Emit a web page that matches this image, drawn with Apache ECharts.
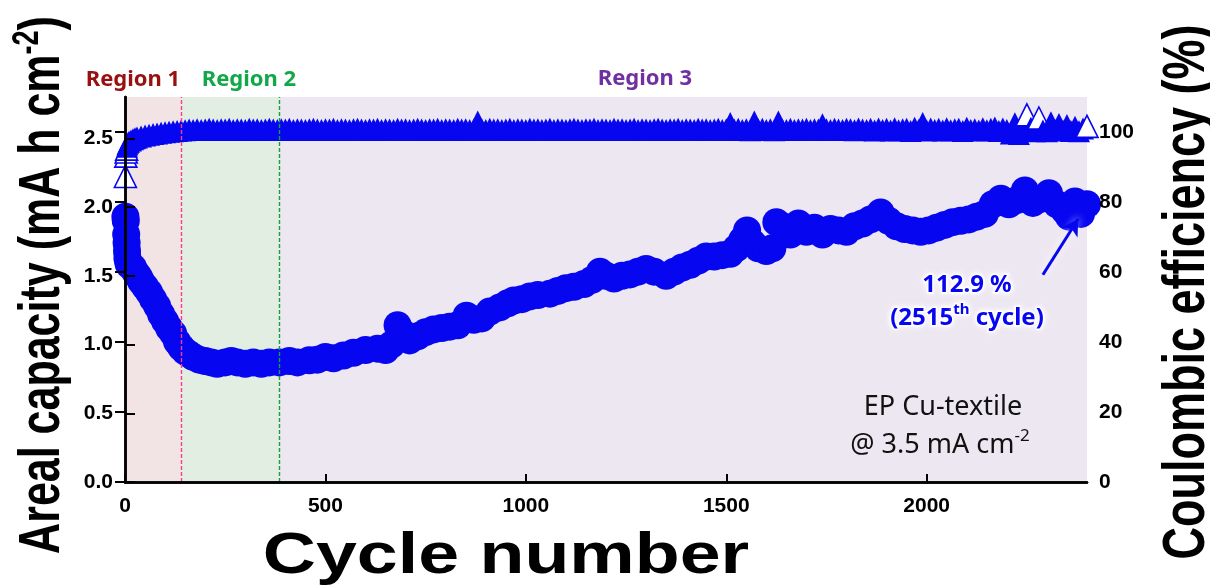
<!DOCTYPE html>
<html><head><meta charset="utf-8">
<script src="https://cdn.jsdelivr.net/npm/echarts@6/dist/echarts.min.js"></script>
<style>html,body{margin:0;padding:0;background:#fff}#c{width:1210px;height:587px}</style>
</head><body><div id="c"></div>
<script>
// ---- data ----
const capCycles = [1,2,3,4,5,6,8,10,15,20,25,30,35,40,50,60,70,80,90,100,110,120,130,140,150,160,170,185,200,215,230,250,265,280,300,320,340,360,385,410,430,460,480,500,520,545,570,600,630,650,665,680,695,710,730,750,770,790,810,830,852,870,890,910,935,955,970,990,1010,1030,1060,1080,1100,1120,1145,1165,1185,1200,1220,1240,1260,1280,1300,1320,1350,1370,1390,1410,1430,1450,1470,1490,1510,1525,1540,1552,1565,1580,1600,1615,1625,1640,1660,1680,1700,1720,1740,1760,1780,1800,1820,1840,1860,1885,1905,1925,1945,1965,1985,2005,2025,2045,2065,2085,2105,2125,2145,2165,2185,2205,2225,2245,2265,2285,2305,2325,2345,2355,2370,2385,2400];
const capValues = [1.93,1.90,1.80,1.74,1.68,1.63,1.60,1.58,1.57,1.56,1.53,1.51,1.49,1.46,1.42,1.38,1.33,1.28,1.22,1.17,1.12,1.08,1.02,0.98,0.95,0.93,0.91,0.89,0.88,0.87,0.86,0.87,0.88,0.87,0.86,0.87,0.86,0.87,0.87,0.88,0.87,0.885,0.89,0.91,0.90,0.92,0.94,0.96,0.97,0.96,1.00,1.14,1.08,1.03,1.06,1.09,1.11,1.12,1.13,1.14,1.21,1.18,1.19,1.24,1.27,1.30,1.32,1.33,1.35,1.36,1.37,1.39,1.41,1.42,1.44,1.47,1.53,1.50,1.48,1.50,1.51,1.53,1.55,1.53,1.50,1.53,1.56,1.58,1.61,1.64,1.64,1.65,1.66,1.70,1.76,1.83,1.74,1.70,1.68,1.70,1.89,1.86,1.80,1.88,1.82,1.85,1.80,1.84,1.83,1.82,1.86,1.88,1.91,1.96,1.90,1.86,1.84,1.83,1.82,1.83,1.85,1.87,1.89,1.90,1.91,1.93,1.95,2.02,2.06,2.02,2.05,2.12,2.03,2.06,2.10,2.02,1.97,1.93,2.04,1.95,2.02];
// coulombic efficiency: first cycles, then one reading every 10 cycles from 150 to 2400
const ceEarlyCycles = [1,2,3,4,5,6,8,10,15,20,25,30,40,50,60,70,80,90,100,110,120,130,140];
const ceValues = [
  87.3,93.1,94.3,95.1,95.8,96.4,96.9,97.2,97.6,97.9,98.2,98.4,98.7,99.0,99.2,99.4,99.6,99.8,99.9,100.1,100.2,100.3,100.4,
  100.5,100.7,100.6,100.8,100.6,100.7,100.9,100.7,100.6,100.8,
  100.7,100.9,100.6,100.8,100.7,100.6,100.9,100.7,100.8,100.6,
  100.7,100.9,100.7,100.6,100.8,100.7,100.9,100.6,100.8,100.7,
  100.6,100.8,100.9,100.7,100.6,100.8,100.7,100.9,100.6,100.8,
  100.7,100.6,100.8,100.9,100.7,100.6,100.8,100.7,100.9,100.6,
  100.8,100.7,100.6,100.9,100.7,100.8,100.6,100.7,100.9,100.7,
  100.6,100.8,100.7,100.9,100.6,100.8,100.7,100.6,100.9,100.7,
  100.8,100.6,100.7,103.0,100.8,100.6,100.9,100.7,100.8,100.6,
  100.7,100.9,100.6,100.8,100.7,100.6,100.9,100.7,100.8,100.6,
  100.7,100.9,100.6,100.8,100.7,100.6,100.8,100.9,100.7,100.6,
  100.8,100.7,100.9,100.6,100.8,100.7,100.6,100.9,100.7,100.8,
  100.6,100.7,100.9,100.6,100.8,100.7,100.6,100.8,100.9,100.7,
  100.6,100.8,100.7,100.9,100.6,100.8,100.7,100.6,100.9,100.7,
  100.8,100.6,100.7,100.9,100.6,100.8,102.6,100.7,100.9,100.6,
  100.8,100.5,103.0,100.7,100.9,100.6,100.8,100.5,103.0,100.7,
  100.6,100.9,100.6,100.8,100.7,100.9,100.6,100.8,100.7,102.2,
  100.8,100.6,100.9,100.7,100.6,100.9,100.8,100.5,101.0,100.7,
  100.6,100.9,100.4,101.0,100.6,100.9,100.4,101.1,100.5,100.8,
  100.9,100.3,101.2,100.6,102.6,100.4,101.0,100.6,100.9,100.4,
  101.1,100.5,100.8,100.9,100.3,101.2,100.6,100.8,100.4,101.1,
  100.5,100.9,101.3,100.3,101.0,100.6,99.6,102.5,99.4,100.8,
  104.9,101.2,100.2,104.0,100.4,100.2,102.8,100.6,102.3,100.4,
  102.0,100.3,101.5,100.2,101.0,101.6
];
const hollowCE = [1, 2, 3, 4, 2250, 2280, 2400];
const regionEdges = [0, 140, 385, 2400];
const regionNames = ['Region 1', 'Region 2', 'Region 3'];
const annoValue = '112.9 %';
const annoCycle = '2515';

// ---- build ----
const ceCycles = ceEarlyCycles.slice();
for (let c = 150; c <= 2400; c += 10) ceCycles.push(c);
const BLUE = '#0606f0';
const capData = capCycles.map((c, i) => [c, capValues[i]]);
const ceData = ceCycles.map((c, i) => {
  const d = { value: [c, ceValues[i]] };
  if (hollowCE.indexOf(c) >= 0) d.itemStyle = { color: '#ffffff', borderColor: BLUE, borderWidth: 1.6 };
  return d;
});
const regionColors = ['#f2e4e4', '#e3eee2', '#ede7f2'];
const dividerColors = ['#ff3c8c', '#16a03a'];
const F = '"Liberation Sans", Arial, sans-serif';
const axisLabelStyle = { color: '#000', fontWeight: 'bold', fontSize: 21, fontFamily: F };

const dividerSeries = [1, 2].map(i => ({
  type: 'line', data: [], z: 1, silent: true,
  markLine: {
    silent: true, symbol: 'none', label: { show: false },
    lineStyle: { color: dividerColors[i - 1], type: [4, 2], width: 1.4, opacity: 1 },
    data: [{ xAxis: regionEdges[i] }]
  }
}));

const chart = echarts.init(document.getElementById('c'), null, { renderer: 'canvas' });
chart.setOption({
  animation: false,
  grid: { left: 125, right: 123, top: 97, bottom: 105, show: false },
  xAxis: [{
    type: 'value', min: regionEdges[0], max: regionEdges[3], interval: 500, z: 5,
    axisLine: { lineStyle: { color: '#000', width: 2.5 } },
    axisTick: { inside: true, length: 8, lineStyle: { color: '#000', width: 2 } },
    axisLabel: Object.assign({ showMaxLabel: false, margin: 14, formatter: v => String(v) }, axisLabelStyle),
    splitLine: { show: false }
  }, {
    type: 'value', position: 'top', min: regionEdges[0], max: regionEdges[3], z: 5,
    axisLine: { lineStyle: { color: '#000', width: 2.5 } },
    axisTick: { show: false }, axisLabel: { show: false }, splitLine: { show: false }
  }],
  yAxis: [{
    type: 'value', min: 0, max: 2.8, interval: 0.5, z: 5,
    axisLine: { show: true, lineStyle: { color: '#000', width: 2.5 } },
    axisTick: { inside: true, length: 10, lineStyle: { color: '#000', width: 2 } },
    axisLabel: Object.assign({ showMaxLabel: false, margin: 12, formatter: v => v.toFixed(1) }, axisLabelStyle),
    splitLine: { show: false }
  }, {
    type: 'value', min: 0, max: 110, interval: 20, position: 'right', z: 5,
    axisLine: { show: true, lineStyle: { color: '#000', width: 2.5 } },
    axisTick: { inside: true, length: 10, lineStyle: { color: '#000', width: 2 } },
    axisLabel: Object.assign({ showMaxLabel: false, margin: 12 }, axisLabelStyle),
    splitLine: { show: false }
  }],
  series: [{
    type: 'line', data: [], z: 0, silent: true,
    markArea: {
      silent: true,
      data: regionNames.map((n, i) => [{ xAxis: regionEdges[i], itemStyle: { color: regionColors[i] } }, { xAxis: regionEdges[i + 1] }])
    }
  }].concat(dividerSeries, [{
    name: 'Areal capacity', type: 'scatter', xAxisIndex: 0, yAxisIndex: 0, z: 2,
    symbol: 'circle', symbolSize: 28, itemStyle: { color: BLUE, opacity: 1 },
    data: capData,
    markLine: {
      silent: true, symbol: ['none', 'arrow'], symbolSize: [14, 16], label: { show: false },
      lineStyle: { color: BLUE, width: 3, type: 'solid', shadowColor: '#ffffff', shadowBlur: 8 },
      data: [[{ coord: [2290, 1.507] }, { coord: [2378, 1.913] }]]
    }
  }, {
    name: 'Coulombic efficiency', type: 'scatter', xAxisIndex: 0, yAxisIndex: 1, z: 3,
    symbol: 'triangle', symbolSize: 22, itemStyle: { color: BLUE, opacity: 1 },
    data: ceData
  }]),
  graphic: [
    { type: 'text', x: 133, y: 80, style: { text: regionNames[0], font: 'bold 22px "Noto Sans", sans-serif', fill: '#9a0f0f', align: 'center', verticalAlign: 'middle' } },
    { type: 'text', x: 249, y: 80, style: { text: regionNames[1], font: 'bold 22px "Noto Sans", sans-serif', fill: '#12a84a', align: 'center', verticalAlign: 'middle' } },
    { type: 'text', x: 645, y: 79, style: { text: regionNames[2], font: 'bold 22px "Noto Sans", sans-serif', fill: '#7030a0', align: 'center', verticalAlign: 'middle' } },
    { type: 'text', x: 967, y: 285, z: 10, style: { text: annoValue, font: 'bold 24px "Noto Sans", sans-serif', fill: BLUE, align: 'center', verticalAlign: 'middle', stroke: '#ffffff', lineWidth: 3, textShadowColor: '#ffffff', textShadowBlur: 6 } },
    { type: 'text', x: 967, y: 318, z: 10, style: {
      text: '(' + annoCycle + '{sup|th} cycle)', font: 'bold 24px "Noto Sans", sans-serif', fill: BLUE, align: 'center', verticalAlign: 'middle', lineHeight: 32,
      stroke: '#ffffff', lineWidth: 3, textShadowColor: '#ffffff', textShadowBlur: 6,
      rich: { sup: { font: 'bold 15px "Noto Sans", sans-serif', fill: BLUE, verticalAlign: 'top', lineHeight: 16, stroke: '#ffffff', lineWidth: 3 } } } },
    { type: 'text', x: 943, y: 407, z: 10, style: { text: 'EP Cu-textile', font: '27px "Noto Sans", sans-serif', fill: '#111', align: 'center', verticalAlign: 'middle' } },
    { type: 'text', x: 940, y: 445, z: 10, style: {
      text: '@ 3.5 mA cm{sup|-2}', font: '27px "Noto Sans", sans-serif', fill: '#111', align: 'center', verticalAlign: 'middle', lineHeight: 34,
      rich: { sup: { font: '17px "Noto Sans", sans-serif', fill: '#111', verticalAlign: 'top', lineHeight: 18 } } } },
    { type: 'text', x: 506, y: 557, scaleX: 1.29, style: { text: 'Cycle number', font: 'bold 57px ' + F, fill: '#000', align: 'center', verticalAlign: 'middle' } },
    { type: 'text', x: 43, y: 285, rotation: Math.PI / 2, scaleY: 1.35, style: {
      text: 'Areal capacity (mA h cm{sup|-2})', font: 'bold 43px ' + F, fill: '#000', align: 'center', verticalAlign: 'middle', lineHeight: 50,
      rich: { sup: { font: 'bold 27px ' + F, fill: '#000', verticalAlign: 'top', lineHeight: 28 } } } },
    { type: 'text', x: 1188, y: 292, rotation: Math.PI / 2, scaleY: 1.32, style: { text: 'Coulombic efficiency (%)', font: 'bold 45px ' + F, fill: '#000', align: 'center', verticalAlign: 'middle' } }
  ]
});
</script>
</body></html>
